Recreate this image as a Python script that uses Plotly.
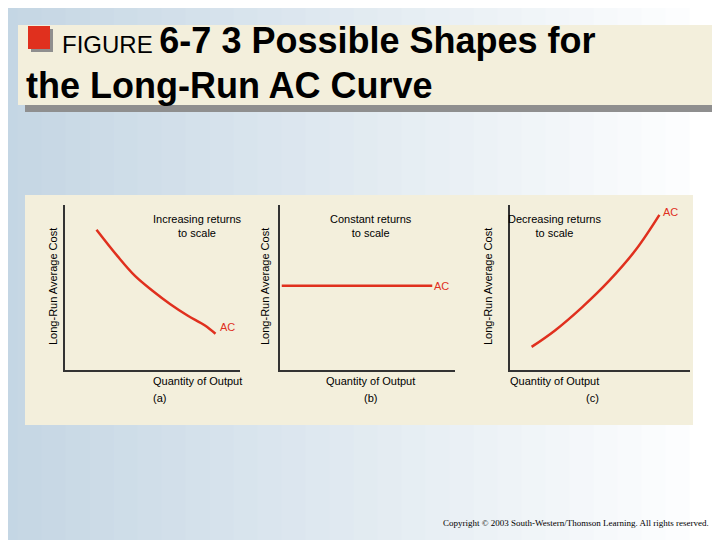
import plotly.graph_objects as go

W, H = 720, 540
OFF = 8  # the page adds an 8px body margin

# data (axis units 0-10)
inc_x = [1.8, 3.0, 4.0, 5.0, 6.0, 7.0, 8.0, 8.6]
inc_y = [8.5, 6.9, 5.7, 4.8, 4.0, 3.3, 2.7, 2.2]
const_x = [0.1, 8.7]
const_y = [5.1, 5.1]
dec_x = [1.2, 2.5, 4.0, 5.5, 7.0, 8.3]
dec_y = [1.4, 2.4, 3.8, 5.4, 7.3, 9.4]

panel_labels = ["Increasing returns<br>to scale", "Constant returns<br>to scale", "Decreasing returns<br>to scale"]
panel_tags = ["(a)", "(b)", "(c)"]

def px(x): return (x - OFF) / W
def py(y): return 1 - (y - OFF) / H

red = "#e0301e"
fig = go.Figure()

axes_px = [(65, 240), (280, 455), (510, 690)]
label_cx = [151, 371, 603]
qty_cx = [151, 370, 601]
ytitle_x = [45, 265, 496]
series = [(inc_x, inc_y), (const_x, const_y), (dec_x, dec_y)]
ac_pos = [(9.26, 2.6), (9.25, 5.1), (8.9, 9.6)]

shapes = []
n = 30
for i in range(n):
    t = i / (n - 1)
    r = int(196 + (255 - 196) * t); g = int(214 + (255 - 214) * t); b = int(228 + (255 - 228) * t)
    shapes.append(dict(type="rect", xref="paper", yref="paper", x0=i / n - 0.02, x1=(i + 1) / n + 0.002,
                       y0=0, y1=1.02, fillcolor=f"rgb({r},{g},{b})", line_width=0, layer="below"))
shapes.append(dict(type="rect", xref="paper", yref="paper", x0=px(25), x1=px(719), y0=py(112), y1=py(32),
                   fillcolor="#8f8f8f", line_width=0, layer="below"))
shapes.append(dict(type="rect", xref="paper", yref="paper", x0=px(18), x1=px(712), y0=py(105), y1=py(25),
                   fillcolor="#f3efdc", line_width=0, layer="below"))
shapes.append(dict(type="rect", xref="paper", yref="paper", x0=px(31), x1=px(53), y0=py(52), y1=py(29),
                   fillcolor="#8f8f8f", line_width=0, layer="below"))
shapes.append(dict(type="rect", xref="paper", yref="paper", x0=px(28), x1=px(50), y0=py(49), y1=py(26),
                   fillcolor=red, line_width=0, layer="below"))
shapes.append(dict(type="rect", xref="paper", yref="paper", x0=px(25), x1=px(693), y0=py(425), y1=py(195),
                   fillcolor="#f3efdc", line_width=0, layer="below"))

annotations = []
layout_axes = {}
for i, ((x0, x1), (sx, sy)) in enumerate(zip(axes_px, series)):
    k = "" if i == 0 else str(i + 1)
    fig.add_trace(go.Scatter(x=sx, y=sy, mode="lines", line=dict(color=red, width=2.5, shape="spline"),
                             xaxis="x" + k, yaxis="y" + k, showlegend=False, hoverinfo="skip"))
    layout_axes["xaxis" + k] = dict(domain=[px(x0), px(x1)], range=[0, 10], showline=True, linecolor="#333",
                                    linewidth=1.5, showgrid=False, zeroline=False, showticklabels=False,
                                    ticks="", anchor="y" + k)
    layout_axes["yaxis" + k] = dict(domain=[py(370), py(205)], range=[0, 10], showline=True, linecolor="#333",
                                    linewidth=1.5, showgrid=False, zeroline=False, showticklabels=False,
                                    ticks="", anchor="x" + k)
    xr, yr = "x" + k, "y" + k
    annotations += [
        dict(xref="paper", yref="paper", x=px(ytitle_x[i]), y=py(287), text="Long-Run Average Cost",
             textangle=-90, showarrow=False, font=dict(size=11)),
        dict(xref="paper", yref="paper", x=px(label_cx[i]), y=py(226),
             text=panel_labels[i], showarrow=False, font=dict(size=11)),
        dict(xref="paper", yref="paper", x=px(qty_cx[i]), y=py(389), text="Quantity of Output",
             showarrow=False, font=dict(size=11)),
        dict(xref="paper", yref="paper", x=px(qty_cx[i]), y=py(406), text=panel_tags[i],
             showarrow=False, font=dict(size=11)),
        dict(xref=xr, yref=yr, x=ac_pos[i][0], y=ac_pos[i][1], text="AC", showarrow=False,
             font=dict(size=11, color=red)),
    ]

annotations += [
    dict(xref="paper", yref="paper", x=px(60), y=py(18), xanchor="left", showarrow=False,
         text="<span style='font-size:24px'>FIGURE </span><b>6-7 3 Possible Shapes for</b>",
         font=dict(size=36, family="Liberation Sans, Arial")),
    dict(xref="paper", yref="paper", x=px(24), y=py(63), xanchor="left", showarrow=False,
         text="<b>the Long-Run AC Curve</b>", font=dict(size=36, family="Liberation Sans, Arial")),
    dict(xref="paper", yref="paper", x=px(711), y=py(530), xanchor="right", showarrow=False,
         text="Copyright © 2003 South-Western/Thomson Learning. All rights reserved.",
         font=dict(size=9, family="Liberation Serif, Times New Roman")),
]

fig.update_layout(width=W, height=H, margin=dict(l=0, r=0, t=0, b=0), paper_bgcolor="white",
                  plot_bgcolor="rgba(0,0,0,0)", shapes=shapes, annotations=annotations,
                  font=dict(family="Liberation Sans, Arial", color="black"), **layout_axes)
fig.write_html("out.html")
